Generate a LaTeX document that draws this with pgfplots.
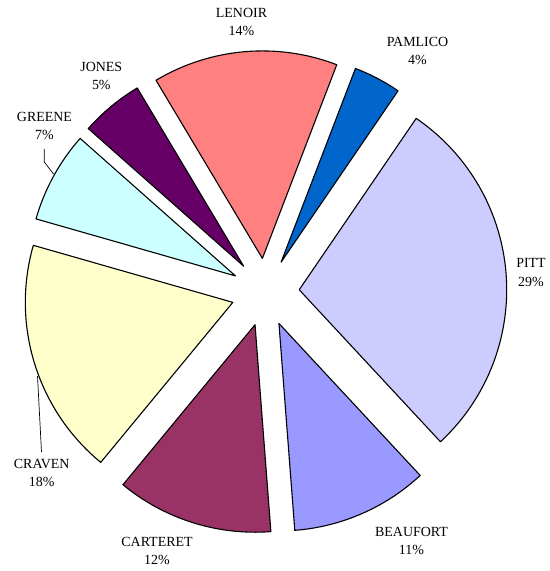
\documentclass[border=0pt]{standalone}
\usepackage{fontspec}
\setmainfont{Liberation Serif}
\usepackage{pgfplots}
\usepackage{pgfplotstable}
\pgfplotsset{compat=1.18}

\definecolor{cBEAUFORT}{HTML}{9999FF}
\definecolor{cCARTERET}{HTML}{993366}
\definecolor{cCRAVEN}{HTML}{FFFFCC}
\definecolor{cGREENE}{HTML}{CCFFFF}
\definecolor{cJONES}{HTML}{660066}
\definecolor{cLENOIR}{HTML}{FF8080}
\definecolor{cPAMLICO}{HTML}{0066CC}
\definecolor{cPITT}{HTML}{CCCCFF}

% share in percent, label centre in picture pixels (y downwards)
\pgfplotstableread{
name     pct   lx    ly
BEAUFORT 10.7  411.5 541
CARTERET 12.2  157   551
CRAVEN   18.45 41.7  473
GREENE   7.1   44.5  126
JONES    4.9   101.3 76
LENOIR   14.4  241.5 22
PAMLICO  3.7   417.5 51
PITT     28.55 531   272.5
}\piedata

\def\startang{137.1} % clockwise from 12 o'clock
\def\pcx{265.3}\def\pcy{292.3} % pie centre
\def\rad{207.5}\def\expl{34}

\begin{document}
\begin{tikzpicture}
\begin{axis}[
  x=1bp, y=1bp, y dir=reverse,
  xmin=0, xmax=550, ymin=0, ymax=571,
  hide axis, clip=false,
]
% keep the whole frame as the page
\path (rel axis cs:0,0) rectangle (rel axis cs:1,1);
\pgfplotstablegetrowsof{\piedata}
\pgfmathtruncatemacro\lastrow{\pgfplotsretval-1}
\def\cum{0}
\pgfplotsforeachungrouped \i in {0,...,\lastrow}{%
  \pgfplotstablegetelem{\i}{name}\of\piedata \let\nm\pgfplotsretval
  \pgfplotstablegetelem{\i}{pct}\of\piedata \let\p\pgfplotsretval
  \pgfplotstablegetelem{\i}{lx}\of\piedata \let\lx\pgfplotsretval
  \pgfplotstablegetelem{\i}{ly}\of\piedata \let\ly\pgfplotsretval
  \pgfmathtruncatemacro\pr{round(\p)}
  \pgfmathsetmacro\a{\startang+\cum*3.6}
  \pgfmathsetmacro\b{\a+\p*3.6}
  \pgfmathsetmacro\m{(\a+\b)/2}
  \pgfmathsetmacro\cx{\pcx+\expl*sin(\m)}
  \pgfmathsetmacro\cy{\pcy-\expl*cos(\m)}
  \pgfmathsetmacro\sa{90-\a}
  \pgfmathsetmacro\sb{90-\b}
  \edef\temp{%
    \noexpand\filldraw[fill=c\nm, draw=black, line width=1.1bp, line join=round]
      (axis cs:\cx,\cy) -- ++(\sa:\rad bp) arc[start angle=\sa, end angle=\sb, radius=\rad bp] -- cycle;
    \noexpand\node[align=center, font=\noexpand\fontsize{14}{18.4}\noexpand\selectfont]
      at (axis cs:\lx,\ly) {\nm\noexpand\\\pr\noexpand\%};
  }\temp
  \pgfmathsetmacro\cum{\cum+\p}
}
% leader lines
\draw[line width=0.7bp] (axis cs:44.3,149) -- (axis cs:44.3,162) -- (axis cs:53.5,174);
\draw[line width=0.7bp] (axis cs:41.5,452) -- (axis cs:37.5,376);
\end{axis}
\end{tikzpicture}
\end{document}
